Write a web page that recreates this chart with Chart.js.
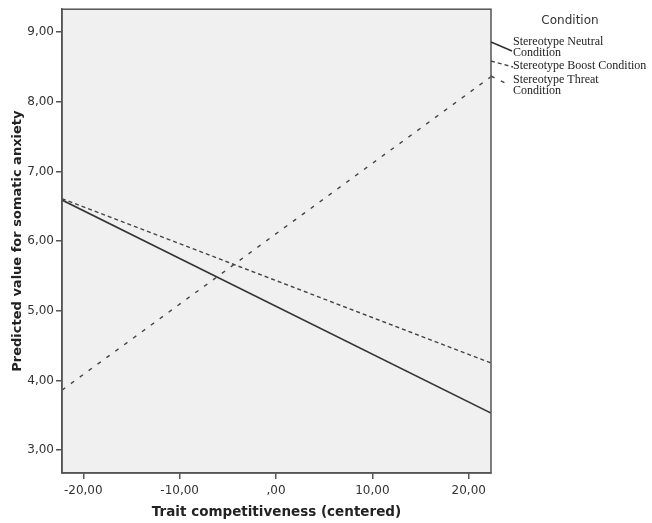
<!DOCTYPE html>
<html>
<head>
<meta charset="utf-8">
<script src="https://cdn.jsdelivr.net/npm/chart.js@4/dist/chart.umd.min.js"></script>
<style>
  html, body { margin: 0; padding: 0; background: #fff; }
  #wrap { position: relative; width: 652px; height: 523px; }
</style>
</head>
<body>
<div id="wrap"><canvas id="plot"></canvas></div>
<script>
// predicted somatic anxiety at both ends of the centered competitiveness range
const legendTitle = 'Condition';
const conditionNames = ['Stereotype Neutral Condition', 'Stereotype Boost Condition', 'Stereotype Threat Condition'];
const xEnds = [-22.21, 22.31];
const neutralValues = [6.59, 3.53];
const boostValues = [6.61, 4.25];
const threatValues = [3.86, 8.36];
const xTicks = [-20, -10, 0, 10, 20];
const yTicks = [3, 4, 5, 6, 7, 8, 9];

function commaFormat(v) {
    let s = Number(v).toFixed(2).replace('.', ',');
    if (s.startsWith('0,')) s = s.slice(1);
    return s;
}

function toPoints(values) {
    return values.map((y, i) => ({ x: xEnds[i], y: y }));
}

const lineStyles = [
    { dash: [], width: 1.6, color: '#333' },
    { dash: [4, 3], width: 1.4, color: '#444' },
    { dash: [4, 7], width: 1.4, color: '#444' },
];

const seriesValues = [neutralValues, boostValues, threatValues];

const chartData = {
    datasets: seriesValues.map((vals, i) => ({
        label: conditionNames[i],
        data: toPoints(vals),
        borderColor: lineStyles[i].color,
        borderWidth: lineStyles[i].width,
        borderDash: lineStyles[i].dash,
        pointRadius: 0,
        fill: false,
    })),
};

// grey panel + box around the plot area
const panelPlugin = {
    id: 'panel',
    beforeDraw(chart) {
        const { ctx, chartArea: a } = chart;
        ctx.save();
        ctx.fillStyle = '#f0f0f0';
        ctx.fillRect(a.left, a.top, a.right - a.left, a.bottom - a.top);
        ctx.restore();
    },
    afterDraw(chart) {
        const { ctx, chartArea: a } = chart;
        ctx.save();
        ctx.strokeStyle = '#555';
        ctx.lineWidth = 1.5;
        ctx.strokeRect(a.left, a.top, a.right - a.left, a.bottom - a.top);
        ctx.restore();
    },
};

// legend to the right of the box, with small slanted line samples
const sideLegend = {
    id: 'sideLegend',
    afterDraw(chart) {
        const { ctx } = chart;
        const x0 = chart.chartArea.right;
        ctx.save();
        ctx.fillStyle = '#333';
        ctx.font = '12px "DejaVu Sans"';
        ctx.textAlign = 'center';
        ctx.textBaseline = 'middle';
        ctx.fillText(legendTitle, 570, 21);

        const entries = [
            { lines: ['Stereotype Neutral', 'Condition'], y: 42, sample: [0, 42, 21, 51] },
            { lines: ['Stereotype Boost Condition'], y: 66, sample: [0, 61, 22, 67] },
            { lines: ['Stereotype Threat', 'Condition'], y: 80, sample: [0, 76, 16, 84] },
        ];
        ctx.font = '12px "Liberation Serif"';
        ctx.fillStyle = '#222';
        ctx.textAlign = 'left';
        entries.forEach((e, i) => {
            e.lines.forEach((t, k) => ctx.fillText(t, 513, e.y + k * 11));
            const s = lineStyles[i];
            ctx.strokeStyle = s.color;
            ctx.lineWidth = s.width;
            ctx.setLineDash(s.dash);
            ctx.beginPath();
            ctx.moveTo(x0 + e.sample[0], e.sample[1]);
            ctx.lineTo(x0 + e.sample[2], e.sample[3]);
            ctx.stroke();
        });
        ctx.restore();
    },
};

const config = {
    type: 'line',
    data: chartData,
    options: {
        responsive: false,
        animation: false,
        layout: {
            padding: { left: 0, top: 6, right: 161, bottom: 0 },
        },
        scales: {
            x: {
                type: 'linear',
                min: xEnds[0],
                max: xEnds[1],
                afterBuildTicks: (scale) => { scale.ticks = xTicks.map(v => ({ value: v })); },
                afterFit: (scale) => { scale.height = 50; },
                border: { display: true, color: '#555', width: 1.5 },
                grid: { drawOnChartArea: false, drawTicks: true, tickLength: 6, color: '#555', lineWidth: 1.5 },
                ticks: {
                    callback: commaFormat,
                    color: '#333',
                    padding: 5,
                    maxRotation: 0,
                    font: { family: 'DejaVu Sans', size: 12 },
                },
                title: {
                    display: true,
                    text: 'Trait competitiveness (centered)',
                    color: '#222',
                    font: { family: 'DejaVu Sans', size: 13.5, weight: 'bold' },
                    padding: { top: 2, bottom: 2 },
                },
            },
            y: {
                min: 2.67,
                max: 9.33,
                afterBuildTicks: (scale) => { scale.ticks = yTicks.map(v => ({ value: v })); },
                afterFit: (scale) => { scale.width = 62; },
                border: { display: true, color: '#555', width: 1.5 },
                grid: { drawOnChartArea: false, drawTicks: true, tickLength: 6, color: '#555', lineWidth: 1.5 },
                ticks: {
                    callback: commaFormat,
                    color: '#333',
                    padding: 2,
                    font: { family: 'DejaVu Sans', size: 12 },
                },
                title: {
                    display: true,
                    text: 'Predicted value for somatic anxiety',
                    color: '#222',
                    font: { family: 'DejaVu Sans', size: 13, weight: 'bold' },
                    padding: { top: 10, bottom: 2 },
                },
            },
        },
        plugins: {
            legend: { display: false },
            tooltip: { enabled: false },
        },
    },
    plugins: [panelPlugin, sideLegend],
};

const canvas = document.getElementById('plot');
canvas.width = 652;
canvas.height = 523;
new Chart(canvas, config);
</script>
</body>
</html>
